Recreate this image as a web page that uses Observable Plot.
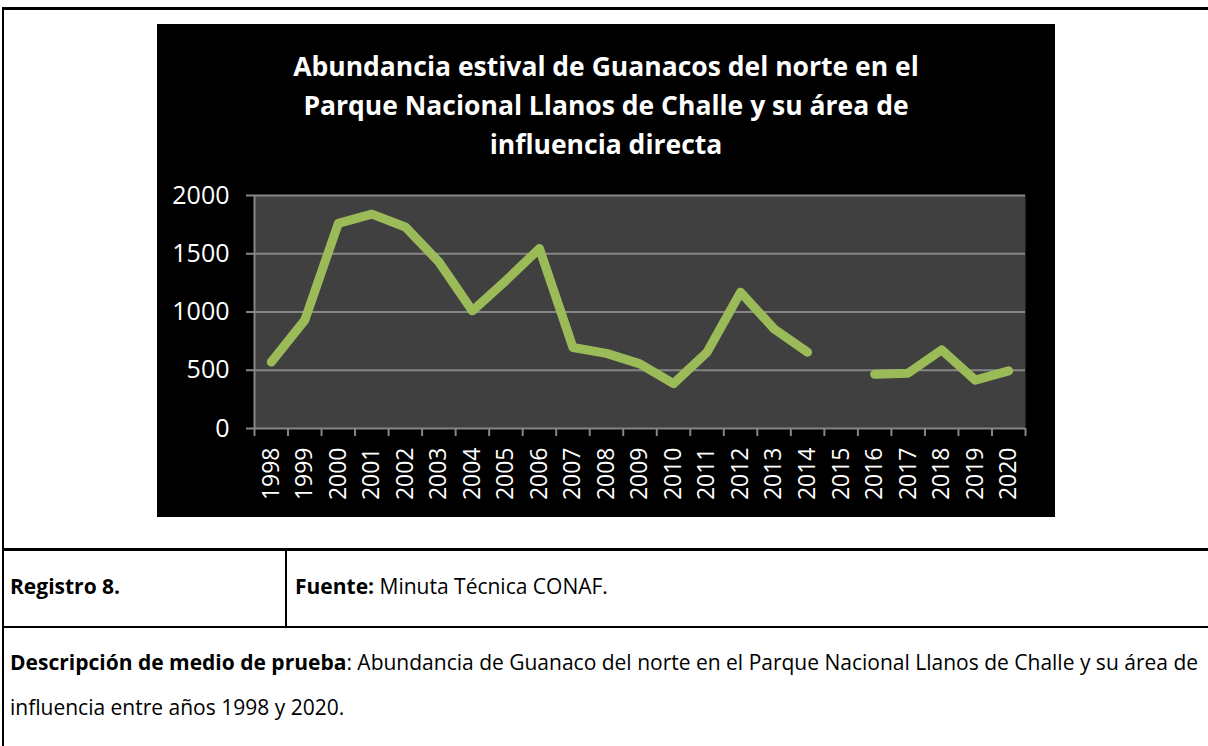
<!DOCTYPE html>
<html><head><meta charset="utf-8">
<script src="https://cdn.jsdelivr.net/npm/d3@7"></script>
<script src="https://cdn.jsdelivr.net/npm/@observablehq/plot@0.6"></script>
<style>
html,body{margin:0;padding:0;background:#fff;}
body{width:1208px;height:746px;overflow:hidden;position:relative;font-family:"Open Sans",sans-serif;}
.bl{position:absolute;background:#000;}
#chart{position:absolute;left:157px;top:24px;width:898px;height:493px;background:#000;}
#title{position:absolute;left:0;top:23px;width:898px;text-align:center;color:#fff;font-weight:700;font-size:26.5px;line-height:39px;white-space:nowrap;}
#plot{position:absolute;left:0;top:146px;}
.t{position:absolute;font-size:21px;line-height:21px;color:#000;white-space:nowrap;}
.t b{font-weight:700;}
</style></head><body>
<div class="bl" style="left:2px;top:7px;width:1206px;height:3px"></div>
<div class="bl" style="left:2px;top:7px;width:2px;height:739px"></div>
<div class="bl" style="left:2px;top:548px;width:1206px;height:2.5px"></div>
<div class="bl" style="left:2px;top:625.5px;width:1206px;height:2.5px"></div>
<div class="bl" style="left:285px;top:549px;width:2px;height:78px"></div>
<div id="chart">
  <div id="title">Abundancia estival de Guanacos del norte en el<br>Parque Nacional Llanos de Challe y su área de<br>influencia directa</div>
  <div id="plot"></div>
</div>
<div class="t" style="left:10px;top:576px"><b>Registro 8.</b></div>
<div class="t" style="left:295px;top:576px"><b>Fuente:</b> Minuta Técnica CONAF.</div>
<div class="t" style="left:10px;top:652px"><b>Descripción de medio de prueba</b>: Abundancia de Guanaco del norte en el Parque Nacional Llanos de Challe y su área de</div>
<div class="t" style="left:10px;top:697px">influencia entre años 1998 y 2020.</div>
<script>
const years = [1998,1999,2000,2001,2002,2003,2004,2005,2006,2007,2008,2009,2010,2011,2012,2013,2014,2015,2016,2017,2018,2019,2020];
const values = [570,930,1760,1840,1730,1430,1010,1270,1545,695,645,555,385,655,1170,855,655,null,465,475,675,415,495];
const yTicks = [0,500,1000,1500,2000];
const data = years.map((year, i) => ({year, value: values[i]}));
const boundaries = d3.range(years[0] - 0.5, years[years.length - 1] + 1, 1);
const gray = "#868686";
const chart = Plot.plot({
  width: 898, height: 347,
  marginTop: 25, marginBottom: 89, marginLeft: 97, marginRight: 30,
  style: {background: "transparent", color: "#fff", fontFamily: "Open Sans, sans-serif"},
  x: {type: "linear", domain: [years[0] - 0.5, years[years.length - 1] + 0.5]},
  y: {domain: [0, 2000]},
  marks: [
    Plot.frame({fill: "#404040", stroke: "none"}),
    Plot.ruleY(yTicks, {stroke: gray, strokeWidth: 2}),
    Plot.ruleX([years[0] - 0.5], {stroke: gray, strokeWidth: 2}),
    Plot.axisY({ticks: yTicks, tickSize: 8, tickPadding: 17, stroke: gray, strokeWidth: 2, fill: "#fff", fontSize: 25, label: null, tickFormat: d => String(d)}),
    Plot.axisX({ticks: boundaries, tickSize: 8, stroke: gray, strokeWidth: 2, tickFormat: () => "", label: null}),
    Plot.axisX({ticks: years, tickSize: 0, tickPadding: 19, tickRotate: -90, fill: "#fff", fontSize: 23, label: null, tickFormat: d => String(d)}),
    Plot.line(data, {x: "year", y: "value", stroke: "#9BBB59", strokeWidth: 9, strokeLinecap: "round", strokeLinejoin: "round"})
  ]
});
document.getElementById("plot").appendChild(chart);
</script>
</body></html>
